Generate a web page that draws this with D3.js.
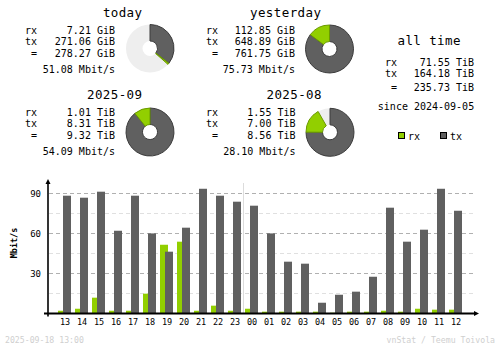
<!DOCTYPE html>
<html>
<head>
<meta charset="utf-8">
<script src="https://cdn.jsdelivr.net/npm/d3@7"></script>
<style>
  html, body { margin: 0; padding: 0; background: #ffffff; }
  svg { display: block; }
  text { font-family: "DejaVu Sans Mono", "Liberation Mono", monospace; fill: #000; }
</style>
</head>
<body>
<svg id="chart" width="500" height="348"></svg>
<script>
// ---- summary data ----
const periods   = ["today", "yesterday", "2025-09", "2025-08"];
const rxTotals  = [7.21, 112.85, 1.01, 1.55];
const txTotals  = [271.06, 648.89, 8.31, 7.00];
const sumTotals = [278.27, 761.75, 9.32, 8.56];
const units     = ["GiB", "GiB", "TiB", "TiB"];
const avgRates  = [51.08, 75.73, 54.09, 28.10];

const allTimeRx = 71.55, allTimeTx = 164.18, allTimeSum = 235.73;
const allTimeUnit = "TiB";
const sinceDate = "2024-09-05";

// ---- hourly data (Mbit/s) ----
const hours  = ["13","14","15","16","17","18","19","20","21","22","23",
                "00","01","02","03","04","05","06","07","08","09","10","11","12"];
const rxRate = [1.7, 3.2, 11.5, 1.7, 1.7, 14.5, 51.2, 53.5, 1.7, 5.5, 1.7,
                3.2, 1.0, 1.0, 1.0, 1.0, 0.2, 1.0, 1.0, 1.7, 1.0, 3.2, 2.5, 2.5];
const txRate = [88.0, 86.5, 91.0, 61.7, 88.0, 59.7, 46.0, 64.0, 93.2, 88.0, 83.5,
                80.5, 59.7, 38.5, 37.0, 7.7, 13.7, 16.0, 27.2, 79.0, 53.5, 62.5, 93.2, 76.7];
const majorTicks = [30, 60, 90];
const minorTicks = [15, 45, 75];

const footerLeft  = "2025-09-18 13:00";
const footerRight = "vnStat / Teemu Toivola";

// ---- colours ----
const C_RX = "#92cf00", C_RX_D = "#6b9a00";
const C_TX = "#606060", C_TX_D = "#3c3c3c";
const C_PIE_BG = "#eeeeee";
const C_LINE = "#b0b0b0", C_LINE_L = "#e0e0e0";

const svg = d3.select("#chart");
const fmt = d3.format(".2f");

// ---- summary blocks ----
const blocks = [
  { labelX: 25,  valueR: 115, titleR: 142, titleY: 16.5, cx: 150, cy: 48.5 },
  { labelX: 206, valueR: 295, titleR: 321, titleY: 16.5, cx: 329.5, cy: 49 },
  { labelX: 25,  valueR: 115, titleR: 142, titleY: 98.5, cx: 150, cy: 132 },
  { labelX: 206, valueR: 295.5, titleR: 321.5, titleY: 98.5, cx: 330, cy: 132.3 }
];
// today is scaled against yesterday, the current month against the previous one
const pairMax = [
  Math.max(sumTotals[0], sumTotals[1]), Math.max(sumTotals[0], sumTotals[1]),
  Math.max(sumTotals[2], sumTotals[3]), Math.max(sumTotals[2], sumTotals[3])
];

const arc = d3.arc().innerRadius(7.5).outerRadius(24);

periods.forEach((name, i) => {
  const b = blocks[i];
  const g = svg.append("g");
  g.append("text").attr("x", b.titleR).attr("y", b.titleY)
    .attr("text-anchor", "end").style("font-size", "12.5px")
    .attr("textLength", name.length * 8 - 1).attr("lengthAdjust", "spacing")
    .text(name);

  const rows = [
    { l: "rx", v: fmt(rxTotals[i]) + " " + units[i], dy: 17.5, lx: 0 },
    { l: "tx", v: fmt(txTotals[i]) + " " + units[i], dy: 28.8, lx: 0 },
    { l: "=",  v: fmt(sumTotals[i]) + " " + units[i], dy: 40, lx: 6 }
  ];
  rows.forEach(r => {
    g.append("text").attr("x", b.labelX + r.lx).attr("y", b.titleY + r.dy)
      .style("font-size", "10px").text(r.l);
    g.append("text").attr("x", b.valueR).attr("y", b.titleY + r.dy)
      .attr("text-anchor", "end").style("font-size", "10px").text(r.v);
  });
  g.append("text").attr("x", b.valueR).attr("y", b.titleY + 56)
    .attr("text-anchor", "end").style("font-size", "10px")
    .text(fmt(avgRates[i]) + " Mbit/s");

  // pie: tx from 12 o'clock clockwise, rx after it, rest left empty
  const ang = d3.scaleLinear().domain([0, pairMax[i]]).range([0, 2 * Math.PI]);
  const pg = g.append("g").attr("transform", `translate(${b.cx},${b.cy})`);
  pg.append("path").attr("d", arc({ startAngle: 0, endAngle: 2 * Math.PI }))
    .attr("fill", C_PIE_BG);
  const txEnd = ang(txTotals[i]);
  const rxEnd = Math.min(ang(txTotals[i] + rxTotals[i]), 2 * Math.PI);
  pg.append("path").attr("d", arc({ startAngle: 0, endAngle: txEnd }))
    .attr("fill", C_TX).attr("stroke", C_TX_D).attr("stroke-width", 1);
  pg.append("path").attr("d", arc({ startAngle: txEnd, endAngle: rxEnd }))
    .attr("fill", C_RX).attr("stroke", C_RX_D).attr("stroke-width", 1);
});

// ---- all time block ----
const at = svg.append("g");
at.append("text").attr("x", 429).attr("y", 44.5).attr("text-anchor", "middle")
  .style("font-size", "12.5px").attr("textLength", 63).attr("lengthAdjust", "spacing")
  .text("all time");
[
  { l: "rx", v: fmt(allTimeRx) + " " + allTimeUnit, y: 65.5, lx: 0 },
  { l: "tx", v: fmt(allTimeTx) + " " + allTimeUnit, y: 77, lx: 0 },
  { l: "=",  v: fmt(allTimeSum) + " " + allTimeUnit, y: 90.5, lx: 6 }
].forEach(r => {
  at.append("text").attr("x", 385 + r.lx).attr("y", r.y).style("font-size", "10px").text(r.l);
  at.append("text").attr("x", 474).attr("y", r.y).attr("text-anchor", "end")
    .style("font-size", "10px").text(r.v);
});
at.append("text").attr("x", 426).attr("y", 110).attr("text-anchor", "middle")
  .style("font-size", "10px").text("since " + sinceDate);

// legend
[{ x: 398, c: C_RX, t: "rx" }, { x: 440, c: C_TX, t: "tx" }].forEach(l => {
  at.append("rect").attr("x", l.x + 0.5).attr("y", 132.5).attr("width", 6).attr("height", 6)
    .attr("fill", l.c).attr("stroke", "#000").attr("stroke-width", 1);
  at.append("text").attr("x", l.x + 10).attr("y", 139.5).style("font-size", "10px").text(l.t);
});

// ---- hourly bar chart ----
const x = d3.scaleBand().domain(hours).range([56, 56 + 17 * hours.length]).padding(0);
const y = d3.scaleLinear().domain([0, 100]).range([313, 179.7]);
const gx0 = 49, gx1 = 473;

const grid = svg.append("g");
minorTicks.forEach(v => {
  grid.append("line").attr("x1", gx0).attr("x2", gx1)
    .attr("y1", Math.round(y(v)) + 0.5).attr("y2", Math.round(y(v)) + 0.5)
    .attr("stroke", C_LINE_L).attr("stroke-dasharray", "4,3");
});
majorTicks.forEach(v => {
  grid.append("line").attr("x1", gx0).attr("x2", gx1)
    .attr("y1", Math.round(y(v)) + 0.5).attr("y2", Math.round(y(v)) + 0.5)
    .attr("stroke", C_LINE).attr("stroke-dasharray", "4,3");
});

// midnight separator
grid.append("line").attr("x1", x("00") + 0.5).attr("x2", x("00") + 0.5)
  .attr("y1", 183).attr("y2", 313).attr("stroke", "#dcdcdc").attr("stroke-width", 1);

const bars = svg.append("g");
bars.selectAll("rect.rx").data(hours).join("rect").attr("class", "rx")
  .attr("x", h => x(h) + 2).attr("width", 8)
  .attr("y", (h, i) => y(rxRate[i])).attr("height", (h, i) => y(0) - y(rxRate[i]))
  .attr("fill", C_RX);
bars.selectAll("rect.tx").data(hours).join("rect").attr("class", "tx")
  .attr("x", h => x(h) + 7).attr("width", 8)
  .attr("y", (h, i) => y(txRate[i])).attr("height", (h, i) => y(0) - y(txRate[i]))
  .attr("fill", C_TX);

// axes
const yAxis = d3.axisLeft(y).tickValues(majorTicks).tickSize(0).tickPadding(7);
const ya = svg.append("g").attr("transform", "translate(48,0)").call(yAxis);
ya.select(".domain").remove();
ya.selectAll("text").style("font-family", "DejaVu Sans Mono, monospace")
  .style("font-size", "9px").attr("dy", "0.4em").attr("fill", "#000");

const xAxis = d3.axisBottom(x).tickSize(0).tickPadding(0);
const xa = svg.append("g").attr("transform", "translate(0.5,313)").call(xAxis);
xa.select(".domain").remove();
xa.selectAll("text").style("font-family", "DejaVu Sans Mono, monospace")
  .style("font-size", "8.5px").attr("y", 11.5).attr("dy", 0).attr("fill", "#000");

// axis lines with arrow heads
svg.append("line").attr("x1", 48).attr("x2", 48).attr("y1", 181).attr("y2", 316.5)
  .attr("stroke", "#000").attr("stroke-width", 1.6);
svg.append("line").attr("x1", 44).attr("x2", 476).attr("y1", 313.5).attr("y2", 313.5)
  .attr("stroke", "#000").attr("stroke-width", 1.8);
svg.append("path").attr("d", "M45.5,184 L50.5,184 L48,179 Z").attr("fill", "#000");
svg.append("path").attr("d", "M474,311 L474,316 L479,313.5 Z").attr("fill", "#000");

svg.append("text").attr("transform", "translate(17,243) rotate(-90)")
  .attr("text-anchor", "middle").style("font-size", "8.5px").style("font-weight", "bold")
  .text("Mbit/s");

// footer
svg.append("text").attr("x", 5).attr("y", 343).style("font-size", "8.2px")
  .style("fill", "#cfcfcf").text(footerLeft);
svg.append("text").attr("x", 495).attr("y", 343).attr("text-anchor", "end")
  .style("font-size", "8.2px").style("fill", "#cfcfcf").text(footerRight);
</script>
</body>
</html>
